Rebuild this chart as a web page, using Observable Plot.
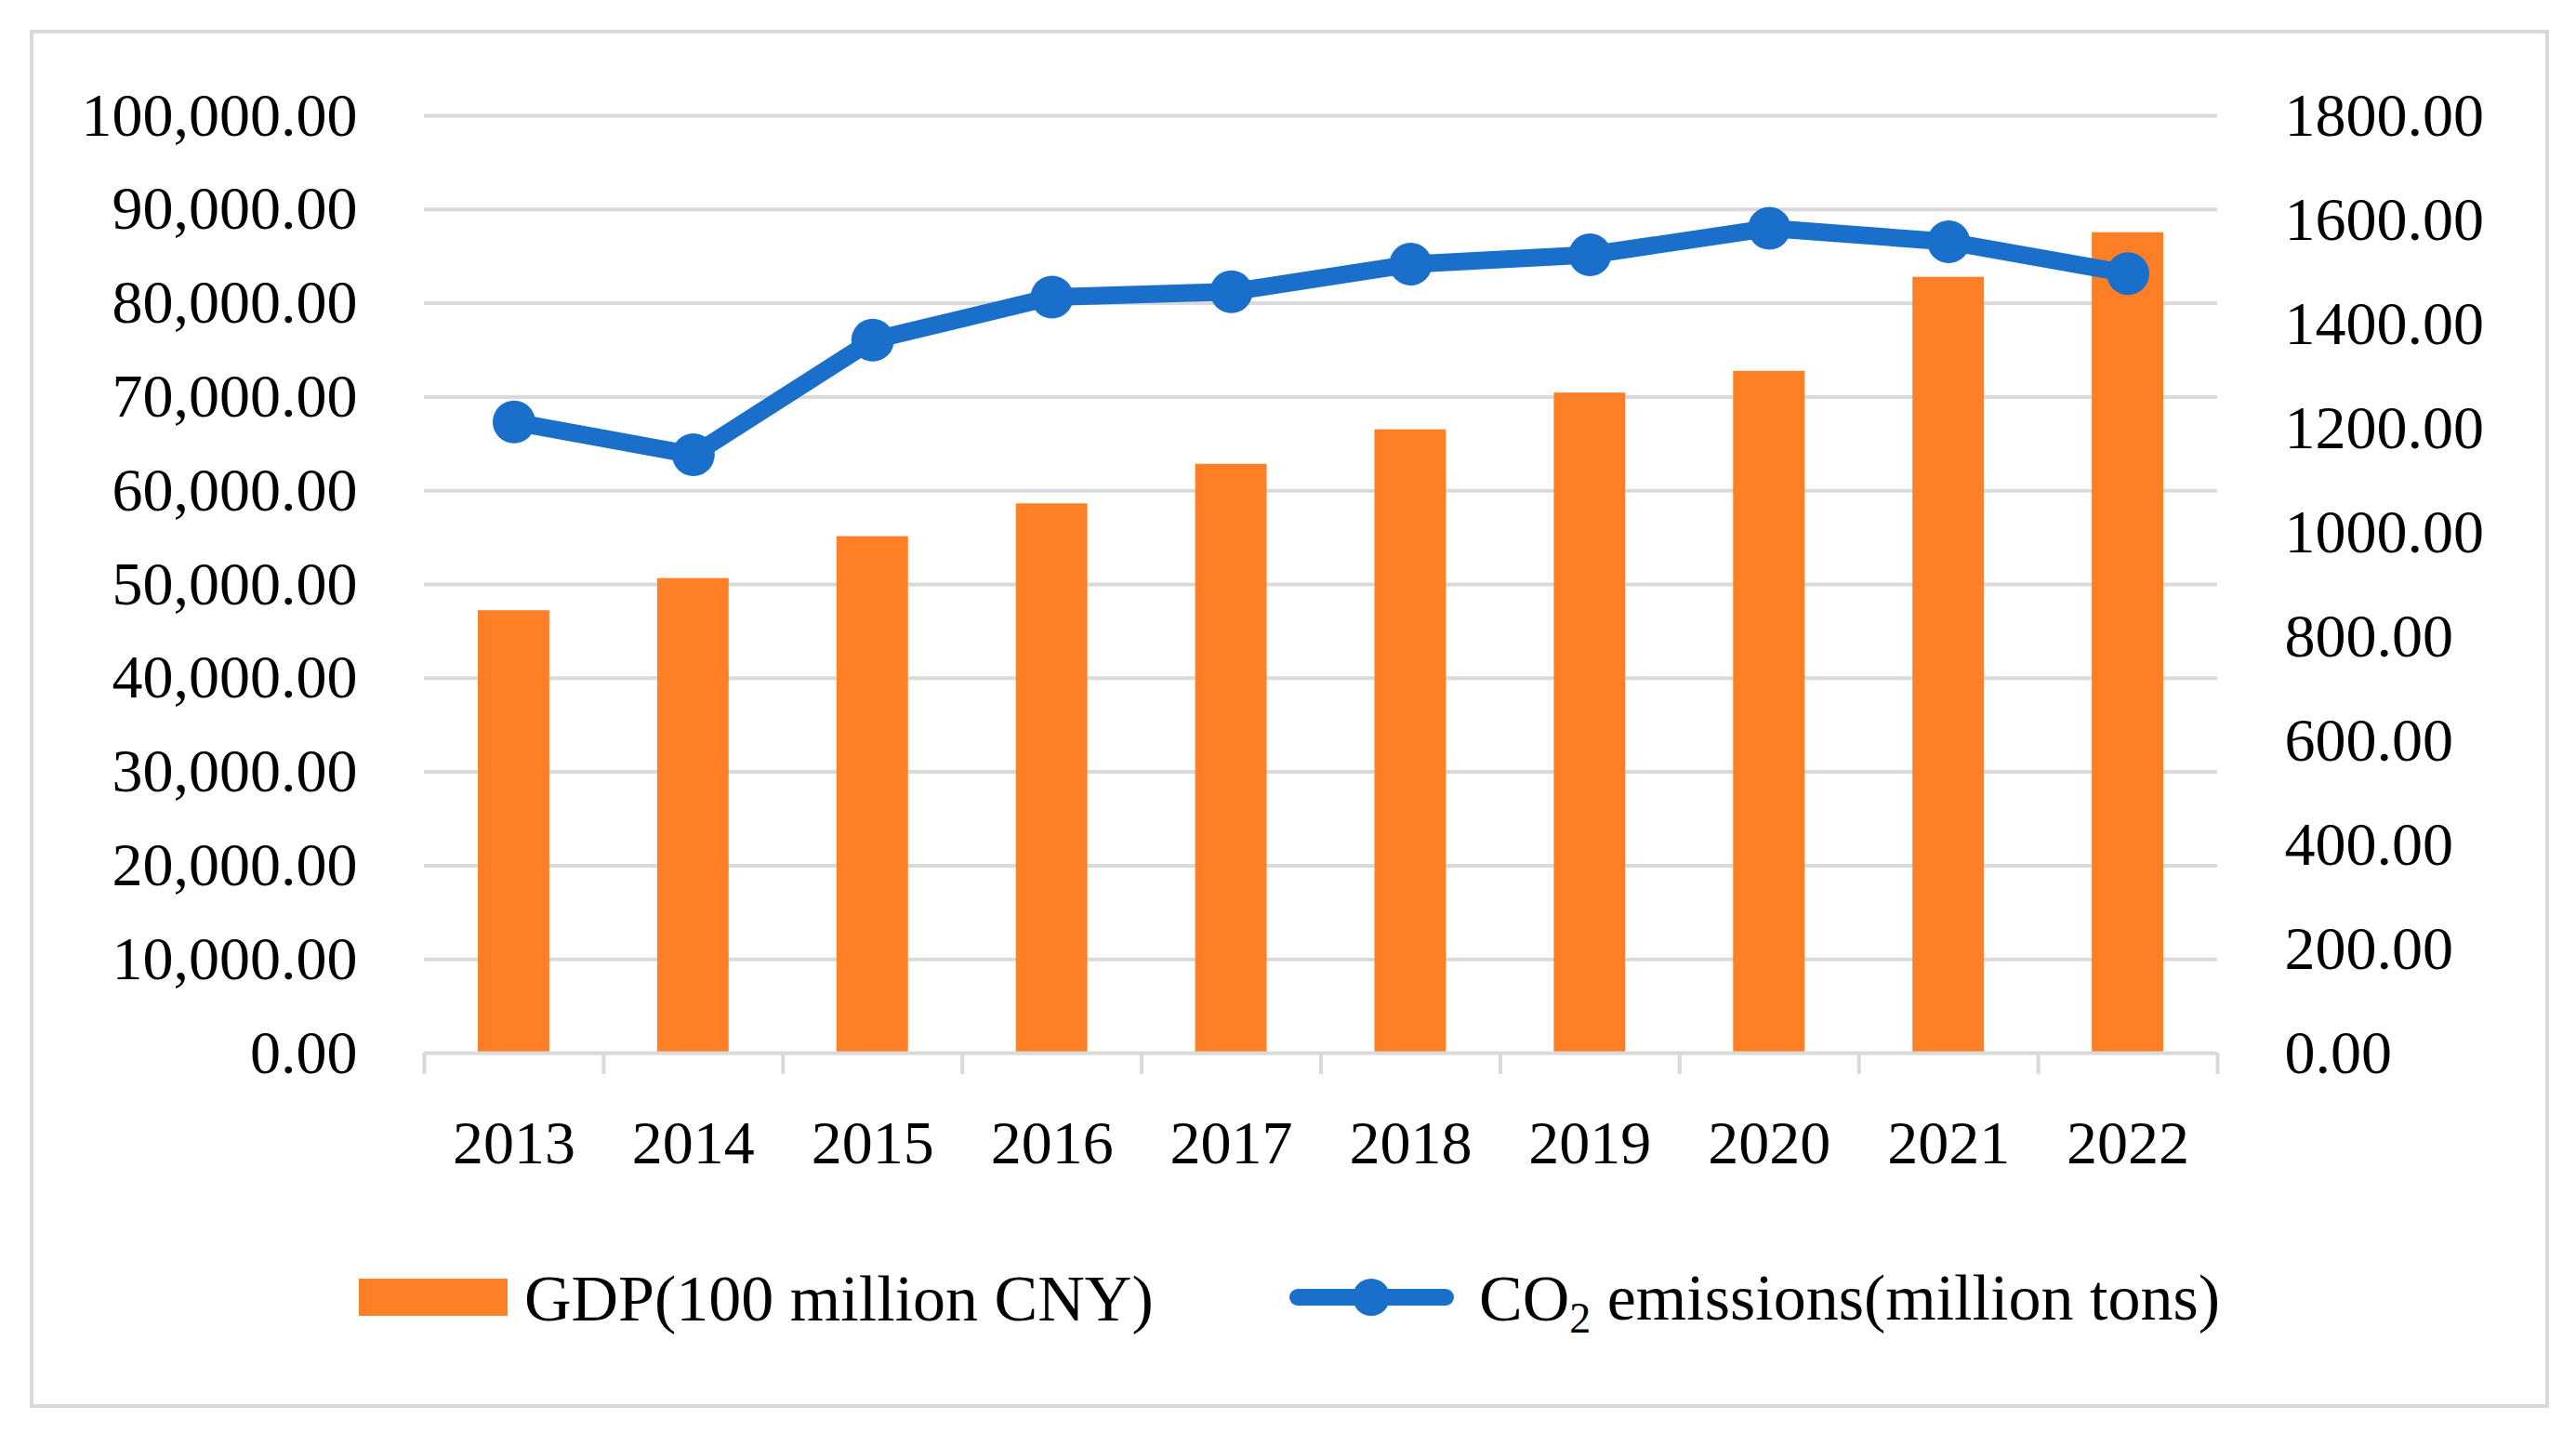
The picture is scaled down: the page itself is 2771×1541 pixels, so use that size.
<!DOCTYPE html>
<html>
<head>
<meta charset="utf-8">
<script src="https://cdn.jsdelivr.net/npm/d3@7"></script>
<script src="https://cdn.jsdelivr.net/npm/@observablehq/plot@0.6"></script>
<style>
  html, body { margin: 0; padding: 0; background: #fff; }
  #page { position: relative; width: 2771px; height: 1541px; font-family: "Liberation Serif", "DejaVu Serif", serif; color: #000; }
  #frame { position: absolute; left: 32px; top: 32px; width: 2702px; height: 1474px; border: 4px solid #d9d9d9; }
  #chart { position: absolute; left: 0; top: 0; }
  #legend { position: absolute; left: 0; top: 1335px; width: 2771px; height: 130px; overflow: visible; }
</style>
</head>
<body>
<div id="page">
  <div id="frame"></div>
  <div id="chart"></div>
  <svg id="legend" width="2771" height="130"></svg>
</div>
<script>
// GDP and CO2 emissions, 2013–2022
const years = [2013, 2014, 2015, 2016, 2017, 2018, 2019, 2020, 2021, 2022];
const gdp = [47200, 50630, 55100, 58600, 62820, 66500, 70420, 72740, 82770, 87530];
const co2 = [1212, 1149, 1369, 1452, 1462, 1515, 1533, 1584, 1558, 1497];

const gdpTicks = d3.range(0, 100001, 10000);
const co2Ticks = d3.range(0, 1801, 200);

const orange = "#ff7f27";
const blue = "#1a6fcb";
const gridGray = "#d9d9d9";

// right axis is drawn on the GDP scale: 1800 t on the right = 100,000 on the left
const k = 100000 / 1800;

const rows = years.map((year, i) => ({year, gdp: gdp[i], co2: co2[i]}));
const bounds = d3.range(years[0] - 0.5, years[years.length - 1] + 1, 1);

const chart = Plot.plot({
  width: 2771,
  height: 1300,
  marginLeft: 456,
  marginRight: 386,
  marginTop: 124,
  marginBottom: 168,
  style: {fontFamily: "'Liberation Serif', serif", fontSize: "66px", color: "#000", background: "transparent"},
  x: {type: "linear", domain: [bounds[0], bounds[bounds.length - 1]]},
  y: {domain: [0, 100000]},
  marks: [
    Plot.gridY(gdpTicks.slice(1), {stroke: gridGray, strokeOpacity: 1, strokeWidth: 4}),
    Plot.rectY(rows, {
      x1: d => d.year - 0.5,
      x2: d => d.year + 0.5,
      y: "gdp",
      fill: orange,
      insetLeft: 58,
      insetRight: 58
    }),
    Plot.ruleY([0], {stroke: gridGray, strokeWidth: 4}),
    Plot.axisX(bounds, {tickSize: 23, tickFormat: () => "", stroke: gridGray, strokeWidth: 4, label: null}),
    Plot.axisX(years, {tickSize: 0, tickPadding: 72, tickFormat: d => String(d), fontSize: 66, label: null}),
    Plot.axisY(gdpTicks, {anchor: "left", tickSize: 0, tickPadding: 72, tickFormat: d3.format(",.2f"), fontSize: 66, label: null}),
    Plot.axisY(co2Ticks.map(v => v * k), {anchor: "right", tickSize: 0, tickPadding: 72, tickFormat: d => (d / k).toFixed(2), fontSize: 66, label: null}),
    Plot.line(rows, {x: "year", y: d => d.co2 * k, stroke: blue, strokeWidth: 19, strokeLinejoin: "round"}),
    Plot.dot(rows, {x: "year", y: d => d.co2 * k, r: 23, fill: blue})
  ]
});
document.getElementById("chart").appendChild(chart);

// legend
const lg = d3.select("#legend");
const cy = 60;
lg.append("rect").attr("x", 386).attr("y", cy - 20).attr("width", 160).attr("height", 40).attr("fill", orange);
lg.append("text").attr("x", 564).attr("y", cy).attr("dy", "0.35em")
  .attr("font-size", 70).attr("font-family", "'Liberation Serif', serif")
  .text("GDP(100 million CNY)");
lg.append("line").attr("x1", 1396).attr("x2", 1555).attr("y1", cy).attr("y2", cy)
  .attr("stroke", blue).attr("stroke-width", 18).attr("stroke-linecap", "round");
lg.append("circle").attr("cx", 1475).attr("cy", cy).attr("r", 20).attr("fill", blue);
const t2 = lg.append("text").attr("x", 1591).attr("y", cy).attr("dy", "0.35em")
  .attr("font-size", 70).attr("font-family", "'Liberation Serif', serif");
t2.append("tspan").text("CO");
t2.append("tspan").attr("font-size", 46).attr("dy", "0.3em").text("2");
t2.append("tspan").attr("dy", "-0.2em").text(" emissions(million tons)");
</script>
</body>
</html>
